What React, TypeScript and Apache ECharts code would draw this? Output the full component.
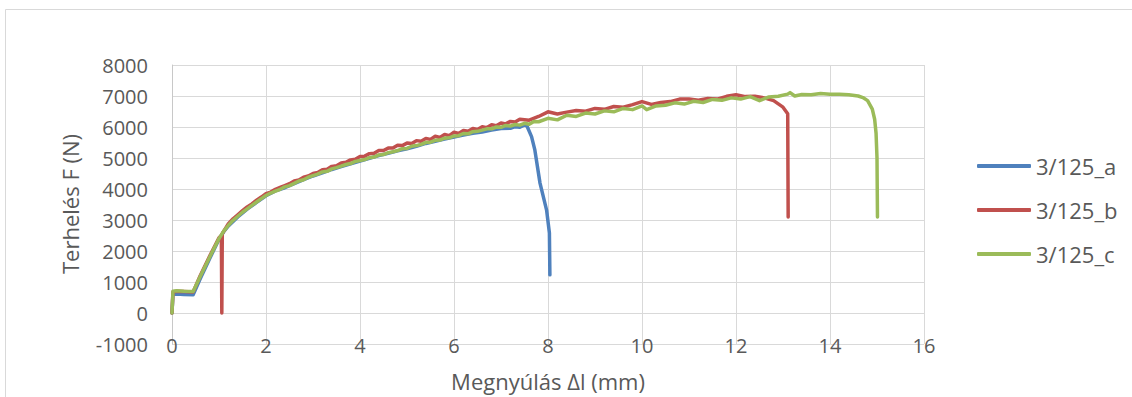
import React, { useEffect, useRef } from "react";
import * as echarts from "echarts";

const seriesNames = ["3/125_a", "3/125_b", "3/125_c"];
const seriesColors = ["#4f81bd", "#c0504d", "#9bbb59"];

const xTitle = "Megnyúlás Δl (mm)";
const yTitle = "Terhelés F (N)";

const aX = [0, 0.02, 0.1, 0.25, 0.45, 0.6, 0.8, 1.0, 1.1, 1.2, 1.4, 1.6, 1.8, 2.0, 2.2, 2.4, 2.6, 2.8, 3.0, 3.2, 3.4, 3.6, 3.8, 4.0, 4.2, 4.4, 4.6, 4.8, 5.0, 5.2, 5.4, 5.6, 5.8, 6.0, 6.2, 6.4, 6.6, 6.8, 7.0, 7.2, 7.3, 7.4, 7.5, 7.55, 7.65, 7.72, 7.83, 7.97, 8.03, 8.04];
const aY = [0, 600, 610, 600, 590, 1100, 1750, 2380, 2620, 2810, 3100, 3350, 3570, 3780, 3940, 4040, 4170, 4300, 4420, 4520, 4630, 4720, 4810, 4900, 4990, 5080, 5150, 5230, 5300, 5380, 5470, 5540, 5610, 5680, 5740, 5800, 5840, 5900, 5950, 5960, 6010, 5990, 6070, 6040, 5690, 5260, 4190, 3320, 2580, 1230];

const bX = [0, 0.02, 0.1, 0.25, 0.45, 0.6, 0.8, 1.0, 1.05, 1.06, 1.07, 1.2, 1.3, 1.4, 1.5, 1.6, 1.7, 1.8, 1.9, 2.0, 2.1, 2.2, 2.3, 2.4, 2.5, 2.6, 2.7, 2.8, 2.9, 3.0, 3.1, 3.2, 3.3, 3.4, 3.5, 3.6, 3.7, 3.8, 3.9, 4.0, 4.1, 4.2, 4.3, 4.4, 4.5, 4.6, 4.7, 4.8, 4.9, 5.0, 5.1, 5.2, 5.3, 5.4, 5.5, 5.6, 5.7, 5.8, 5.9, 6.0, 6.1, 6.2, 6.3, 6.4, 6.5, 6.6, 6.7, 6.8, 6.9, 7.0, 7.1, 7.2, 7.3, 7.4, 7.6, 7.8, 8.0, 8.2, 8.4, 8.6, 8.8, 9.0, 9.2, 9.4, 9.6, 9.8, 10.0, 10.2, 10.4, 10.6, 10.8, 11.0, 11.2, 11.4, 11.6, 11.8, 12.0, 12.2, 12.4, 12.6, 12.8, 13.0, 13.1, 13.11];
const bY = [0, 680, 700, 690, 680, 1200, 1830, 2430, 2500, 0, 2560, 2880, 3040, 3170, 3300, 3420, 3520, 3640, 3740, 3850, 3900, 3990, 4050, 4110, 4170, 4260, 4290, 4380, 4420, 4500, 4530, 4620, 4640, 4730, 4750, 4840, 4860, 4940, 4960, 5050, 5060, 5140, 5150, 5240, 5240, 5320, 5320, 5410, 5400, 5480, 5470, 5560, 5540, 5630, 5600, 5700, 5660, 5760, 5720, 5830, 5790, 5890, 5860, 5950, 5920, 6010, 5980, 6070, 6040, 6130, 6100, 6180, 6160, 6250, 6220, 6340, 6490, 6420, 6480, 6530, 6510, 6600, 6570, 6660, 6640, 6720, 6820, 6730, 6790, 6820, 6900, 6900, 6860, 6920, 6900, 6990, 7040, 6980, 6990, 6940, 6850, 6640, 6430, 3100];

const cX = [0, 0.02, 0.1, 0.25, 0.45, 0.6, 0.8, 1.0, 1.1, 1.2, 1.3, 1.4, 1.5, 1.6, 1.7, 1.8, 1.9, 2.0, 2.1, 2.2, 2.3, 2.4, 2.5, 2.6, 2.7, 2.8, 2.9, 3.0, 3.1, 3.2, 3.3, 3.4, 3.5, 3.6, 3.7, 3.8, 3.9, 4.0, 4.1, 4.2, 4.3, 4.4, 4.5, 4.6, 4.7, 4.8, 4.9, 5.0, 5.1, 5.2, 5.3, 5.4, 5.5, 5.6, 5.7, 5.8, 5.9, 6.0, 6.1, 6.2, 6.3, 6.4, 6.5, 6.6, 6.7, 6.8, 6.9, 7.0, 7.1, 7.2, 7.3, 7.4, 7.5, 7.6, 7.7, 7.8, 8.0, 8.2, 8.4, 8.6, 8.8, 9.0, 9.2, 9.4, 9.6, 9.8, 10.0, 10.1, 10.3, 10.5, 10.7, 10.9, 11.1, 11.3, 11.5, 11.7, 11.9, 12.1, 12.3, 12.5, 12.7, 12.9, 13.1, 13.15, 13.25, 13.4, 13.6, 13.8, 14.0, 14.2, 14.4, 14.6, 14.7, 14.8, 14.9, 14.95, 14.98, 15.0, 15.01];
const cY = [0, 700, 720, 700, 690, 1180, 1800, 2400, 2640, 2830, 2990, 3120, 3250, 3360, 3470, 3580, 3690, 3790, 3870, 3930, 3990, 4070, 4110, 4180, 4260, 4300, 4380, 4430, 4480, 4550, 4570, 4650, 4690, 4740, 4790, 4820, 4890, 4920, 4950, 5010, 5030, 5100, 5110, 5170, 5200, 5240, 5300, 5310, 5380, 5400, 5440, 5500, 5510, 5570, 5580, 5640, 5650, 5710, 5720, 5790, 5780, 5850, 5860, 5900, 5940, 5940, 6000, 5990, 6050, 6030, 6080, 6060, 6120, 6090, 6180, 6170, 6280, 6230, 6380, 6340, 6450, 6420, 6520, 6490, 6600, 6560, 6680, 6560, 6680, 6700, 6780, 6740, 6830, 6790, 6890, 6860, 6940, 6900, 6980, 6850, 6970, 6990, 7060, 7110, 7000, 7050, 7040, 7080, 7060, 7060, 7040, 7000, 6950, 6850, 6580, 6250, 5800, 5000, 3100];

const xMin = 0;
const xMax = 16;
const xStep = 2;
const yMin = -1000;
const yMax = 8000;
const yStep = 1000;

const FONT = "'Open Sans', sans-serif";
const TEXT = "#595959";
const TICK_SIZE = 20;
const TITLE_SIZE = 22;
const LEGEND_SIZE = 22;

function pairs(xs: number[], ys: number[]) {
  return xs.map((x, i) => [x, ys[i]]);
}

export default function App() {
  const ref = useRef<HTMLDivElement>(null);
  useEffect(() => {
    if (!ref.current) return;
    const chart = echarts.init(ref.current, undefined, { renderer: "svg" });
    const all = [pairs(aX, aY), pairs(bX, bY), pairs(cX, cY)];
    chart.setOption({
      animation: false,
      backgroundColor: "#ffffff",
      textStyle: { fontFamily: FONT },
      grid: { left: 172, top: 65, width: 752, height: 279 },
      xAxis: {
        type: "value",
        min: xMin,
        max: xMax,
        interval: xStep,
        axisLine: { show: false, onZero: false },
        axisTick: { show: false },
        axisLabel: {
          color: TEXT,
          fontSize: TICK_SIZE,
          fontFamily: FONT,
          verticalAlign: "middle",
          margin: 1,
          formatter: (v: number) => String(v),
        },
        splitLine: { show: true, lineStyle: { color: "#d9d9d9", width: 1 } },
      },
      yAxis: {
        type: "value",
        min: yMin,
        max: yMax,
        interval: yStep,
        axisLine: { show: true, lineStyle: { color: "#c8c8c8", width: 1 } },
        axisTick: { show: false },
        axisLabel: {
          color: TEXT,
          fontSize: TICK_SIZE,
          fontFamily: FONT,
          margin: 24,
          formatter: (v: number) => String(v),
        },
        splitLine: { show: true, lineStyle: { color: "#d9d9d9", width: 1 } },
      },
      legend: {
        orient: "vertical",
        left: 972,
        top: 147,
        itemWidth: 54,
        itemHeight: 4,
        itemGap: 16,
        icon: "roundRect",
        textStyle: { color: TEXT, fontSize: LEGEND_SIZE, fontFamily: FONT, lineHeight: 28 },
        data: seriesNames,
      },
      graphic: [
        {
          type: "rect",
          shape: { x: 5.5, y: 9.5, width: 1200, height: 500 },
          style: { fill: "none", stroke: "#d9d9d9", lineWidth: 1 },
          silent: true,
        },
        {
          type: "text",
          x: 70,
          y: 204,
          rotation: Math.PI / 2,
          style: {
            text: yTitle,
            fill: TEXT,
            font: `${TITLE_SIZE}px ${FONT}`,
            align: "center",
            verticalAlign: "middle",
          },
        },
        {
          type: "text",
          x: 548,
          y: 381,
          style: {
            text: xTitle,
            fill: TEXT,
            font: `${TITLE_SIZE}px ${FONT}`,
            align: "center",
            verticalAlign: "middle",
          },
        },
      ],
      series: all.map((d, i) => ({
        name: seriesNames[i],
        type: "line",
        data: d,
        showSymbol: false,
        symbol: "none",
        color: seriesColors[i],
        lineStyle: { width: 3.5, color: seriesColors[i], cap: "round", join: "round" },
      })),
    });
    return () => chart.dispose();
  }, []);
  return (
    <div
      ref={ref}
      style={{ position: "absolute", left: 0, top: 0, width: 1132, height: 397 }}
    />
  );
}
